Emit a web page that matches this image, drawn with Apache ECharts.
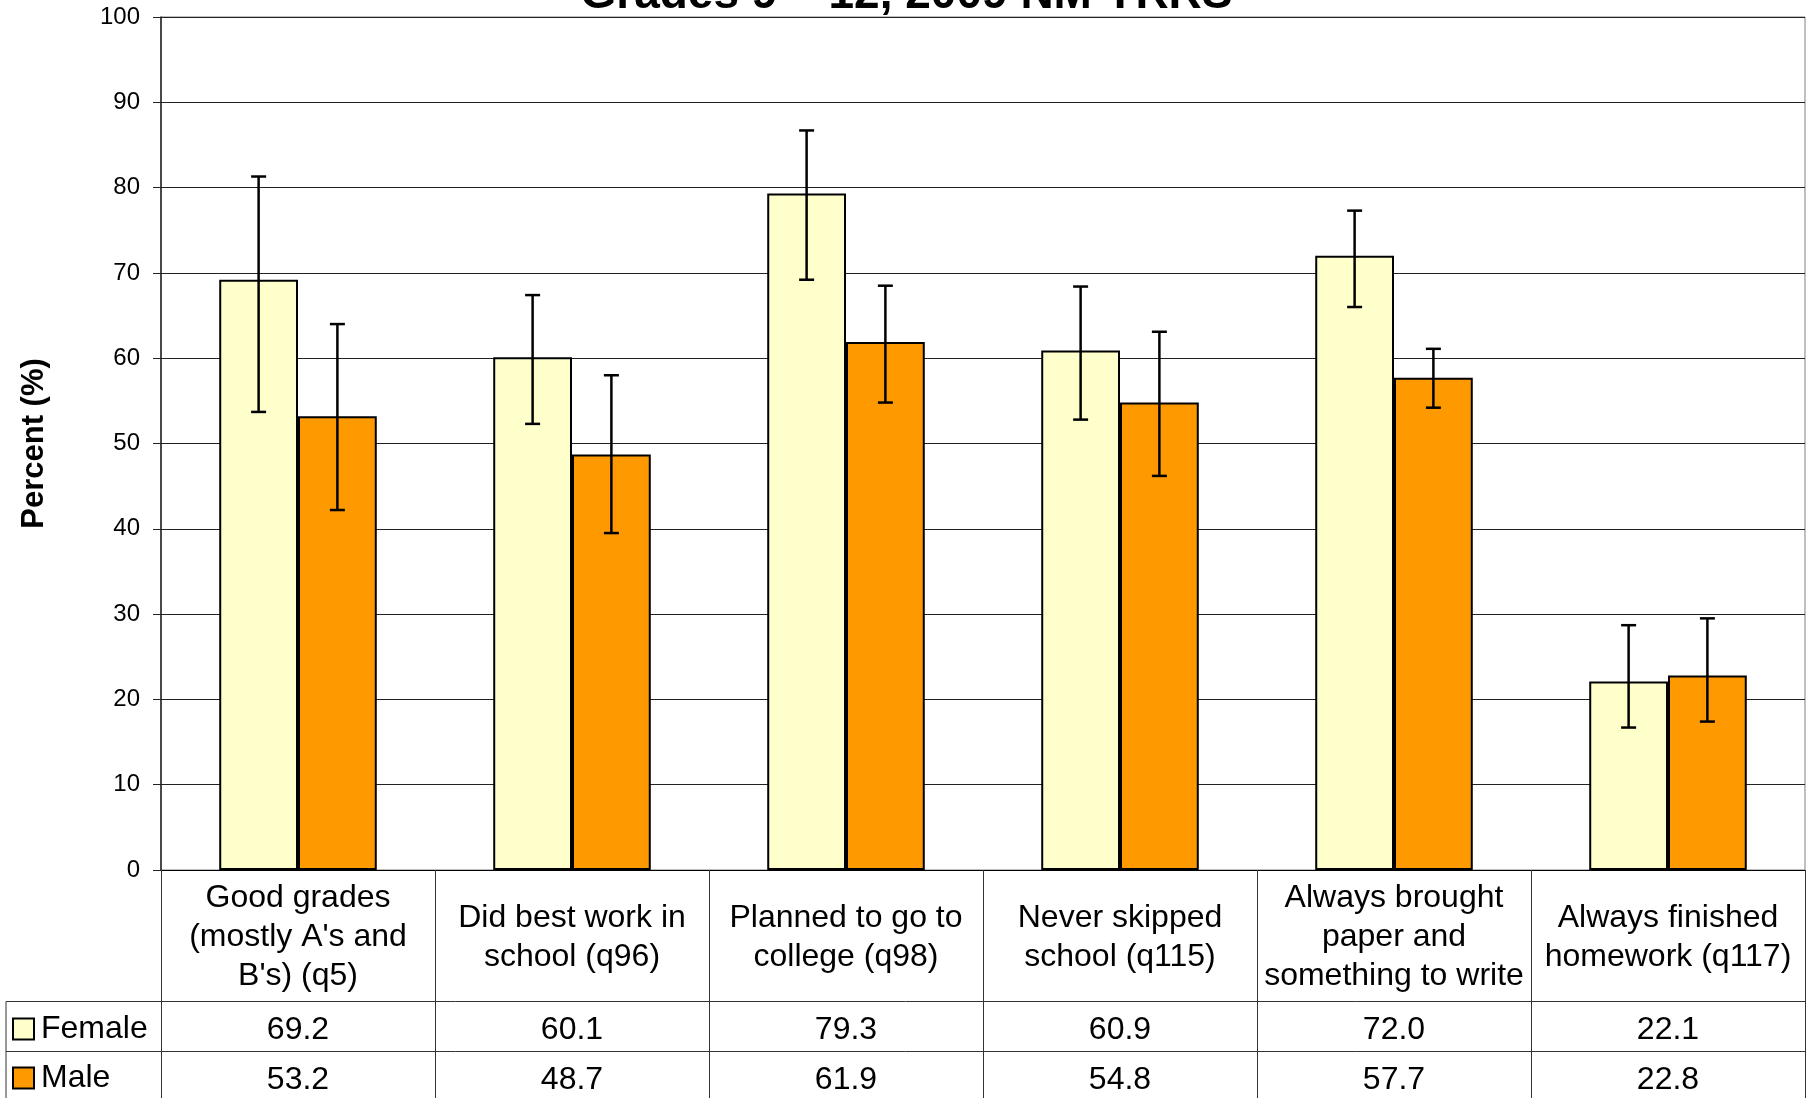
<!DOCTYPE html>
<html><head><meta charset="utf-8">
<script src="https://cdn.jsdelivr.net/npm/echarts@6/dist/echarts.min.js"></script>
<style>html,body{margin:0;padding:0;background:#fff}#c{width:1813px;height:1098px}</style>
</head><body><div id="c"></div>
<script>
// ---- data ----
const titleText = "Grades 9 \u2013 12, 2009 NM YRRS";
const yAxisTitle = "Percent (%)";
const categories = [
  "Good grades\n(mostly A's and\nB's) (q5)",
  "Did best work in\nschool (q96)",
  "Planned to go to\ncollege (q98)",
  "Never skipped\nschool (q115)",
  "Always brought\npaper and\nsomething to write",
  "Always finished\nhomework (q117)"
];
const seriesNames = ["Female", "Male"];
const femaleValues = [69.2, 60.1, 79.3, 60.9, 72.0, 22.1];
const maleValues   = [53.2, 48.7, 61.9, 54.8, 57.7, 22.8];
const femaleLow  = [53.7, 52.3, 69.2, 52.8, 66.0, 16.7];
const femaleHigh = [81.3, 67.4, 86.7, 68.4, 77.3, 28.7];
const maleLow    = [42.2, 39.5, 54.8, 46.2, 54.2, 17.4];
const maleHigh   = [64.0, 58.0, 68.5, 63.1, 61.1, 29.5];
const yMin = 0, yMax = 100, yStep = 10;

// ---- layout / style ----
const FONT = "'Liberation Sans', Arial, Helvetica, sans-serif";
const W = 1813, H = 1098;
const gridLeft = 161, gridRight = 8, gridTop = 17, gridBottom = 228;
const axisY = H - gridBottom;          // 870
const row1Top = 1001.5, row2Top = 1051.5;
const tableLeft = 6;
const catGap = 0.425;
const colors = ["#FFFFCC", "#FF9900"];

function errSeries(name, low, high, side) {
  return {
    type: 'custom', name: name, xAxisIndex: 0, yAxisIndex: 0, z: 10, silent: true,
    data: low.map((l, i) => [i, l, high[i]]),
    encode: { x: 0, y: [1, 2] },
    renderItem: function (params, api) {
      const i = api.value(0);
      const lo = api.coord([i, api.value(1)]);
      const hi = api.coord([i, api.value(2)]);
      const band = api.size([1, 0])[0];
      const bw = band * (1 - catGap) / 2;
      const x = lo[0] + side * bw / 2;
      const cap = 7.5;
      const st = { stroke: '#000', lineWidth: 2.5 };
      return { type: 'group', children: [
        { type: 'line', shape: { x1: x, y1: lo[1], x2: x, y2: hi[1] }, style: st },
        { type: 'line', shape: { x1: x - cap, y1: lo[1], x2: x + cap, y2: lo[1] }, style: st },
        { type: 'line', shape: { x1: x - cap, y1: hi[1], x2: x + cap, y2: hi[1] }, style: st }
      ]};
    }
  };
}

const valueAxis = (vals, margin) => ({
  type: 'category', gridIndex: 0, position: 'bottom', data: vals.map(v => v.toFixed(1)),
  axisLine: { show: false }, axisTick: { show: false }, splitLine: { show: false },
  axisLabel: { interval: 0, margin: margin, verticalAlign: 'middle', align: 'center',
    fontSize: 32, fontFamily: FONT, color: '#000' }
});

const chart = echarts.init(document.getElementById('c'), null, { renderer: 'canvas' });
const lineStyle = { stroke: '#333', lineWidth: 1 };
chart.setOption({
  animation: false,
  backgroundColor: '#fff',
  textStyle: { fontFamily: FONT },
  title: { text: titleText, left: 'center', top: -33,
    textStyle: { fontSize: 46, fontWeight: 'bold', color: '#000', fontFamily: FONT } },
  legend: {
    data: seriesNames, orient: 'vertical', left: 12, top: 1013, itemWidth: 21, itemHeight: 21,
    itemGap: 17, icon: 'rect', selectedMode: false, padding: 0,
    textStyle: { fontSize: 32, lineHeight: 31, color: '#000', fontFamily: FONT, padding: [0, 0, 0, 2] }
  },
  grid: { left: gridLeft, right: gridRight, top: gridTop, bottom: gridBottom, show: true,
    borderColor: '#808080', borderWidth: 1, containLabel: false, outerBoundsMode: 'none' },
  xAxis: [
    { type: 'category', data: categories, boundaryGap: true,
      axisLine: { show: true, lineStyle: { color: '#000', width: 1 } },
      axisTick: { show: true, length: gridBottom, alignWithLabel: false, lineStyle: { color: '#333', width: 1 } },
      axisLabel: { interval: 0, margin: 67.5, verticalAlign: 'middle', align: 'center',
        fontSize: 32, lineHeight: 39, fontFamily: FONT, color: '#000' },
      splitLine: { show: false } },
    valueAxis(femaleValues, (row1Top + row2Top) / 2 - axisY + 3.5),
    valueAxis(maleValues, (row2Top + H) / 2 - axisY + 5)
  ],
  yAxis: {
    type: 'value', min: yMin, max: yMax, interval: yStep,
    name: yAxisTitle, nameLocation: 'middle', nameGap: 111,
    nameTextStyle: { fontSize: 31, fontWeight: 'bold', color: '#000', fontFamily: FONT },
    axisLine: { show: true, lineStyle: { color: '#222', width: 1.5 } },
    axisTick: { show: true, length: 8, lineStyle: { color: '#222' } },
    axisLabel: { fontSize: 24, color: '#000', margin: 21, fontFamily: FONT },
    splitLine: { show: true, lineStyle: { color: '#222', width: 1 } }
  },
  series: [
    { type: 'bar', name: seriesNames[0], data: femaleValues, barGap: '0%', barCategoryGap: (catGap * 100) + '%',
      itemStyle: { color: colors[0], borderColor: '#000', borderWidth: 2 } },
    { type: 'bar', name: seriesNames[1], data: maleValues, barGap: '0%', barCategoryGap: (catGap * 100) + '%',
      itemStyle: { color: colors[1], borderColor: '#000', borderWidth: 2 } },
    errSeries('Female CI', femaleLow, femaleHigh, -1),
    errSeries('Male CI', maleLow, maleHigh, 1)
  ],
  graphic: [
    { type: 'line', silent: true, shape: { x1: tableLeft, y1: row1Top, x2: W - gridRight, y2: row1Top }, style: lineStyle },
    { type: 'line', silent: true, shape: { x1: tableLeft, y1: row2Top, x2: W - gridRight, y2: row2Top }, style: lineStyle },
    { type: 'line', silent: true, shape: { x1: tableLeft, y1: row1Top, x2: tableLeft, y2: H }, style: lineStyle }
  ]
});
</script></body></html>
